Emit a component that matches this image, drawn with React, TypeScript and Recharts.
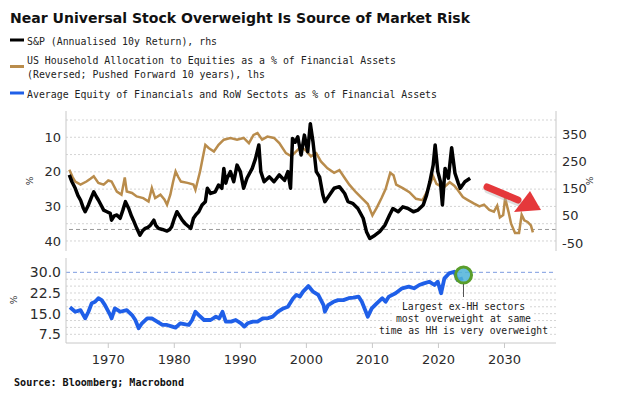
import React from 'react';
import { LineChart, Line, XAxis, YAxis, ReferenceLine, ReferenceDot } from 'recharts';

// ---------- data ----------
const xTicks = [1970, 1980, 1990, 2000, 2010, 2020, 2030];
const leftTicks = [10, 20, 30, 40];
const rightTicks = [-50, 50, 150, 250, 350];
const bottomTicks = [7.5, 15, 22.5, 30];
const topGrid = [5, 10, 15, 20, 25, 30, 35, 40];
const bottomGrid = [7.5, 10, 12.5, 15, 17.5, 20, 22.5, 25, 27.5];

const spYears = [1964.1, 1964.5, 1965.0, 1965.4, 1965.8, 1966.2, 1966.5, 1967.0, 1967.4, 1967.8, 1968.2, 1968.5, 1969.0, 1969.3, 1969.8, 1970.3, 1970.5, 1970.9, 1971.3, 1971.8, 1972.2, 1972.6, 1973.1, 1973.5, 1973.8, 1974.3, 1974.8, 1975.2, 1975.6, 1976.0, 1976.4, 1976.9, 1977.2, 1977.6, 1978.2, 1978.9, 1979.3, 1979.6, 1980.0, 1980.4, 1980.8, 1981.2, 1981.7, 1982.2, 1982.5, 1982.9, 1983.3, 1983.7, 1984.2, 1984.7, 1985.0, 1985.5, 1986.2, 1986.7, 1987.2, 1987.5, 1987.8, 1988.0, 1988.5, 1989.0, 1989.5, 1990.0, 1990.5, 1991.0, 1991.8, 1992.3, 1992.8, 1993.1, 1993.6, 1994.4, 1995.1, 1995.9, 1996.7, 1997.2, 1997.6, 1997.9, 1998.3, 1998.7, 1999.2, 1999.7, 2000.2, 2000.6, 2001.0, 2001.5, 2002.0, 2002.5, 2002.8, 2003.5, 2004.2, 2005.0, 2005.8, 2006.3, 2007.0, 2007.8, 2008.6, 2009.1, 2009.6, 2010.4, 2011.1, 2011.9, 2012.6, 2013.1, 2013.9, 2014.6, 2015.4, 2016.2, 2016.9, 2017.7, 2018.2, 2018.7, 2019.2, 2019.5, 2019.9, 2020.3, 2020.6, 2021.0, 2021.5, 2022.0, 2022.5, 2023.0, 2023.3, 2024.0, 2024.8];
const spValues = [200, 175, 151, 125, 108, 80, 65, 90, 115, 138, 120, 108, 85, 71, 65, 59, 34, 50, 53, 41, 70, 102, 77, 50, 34, 5, -21, -5, 4, 8, 16, 34, 15, 4, 0, -6, 0, 10, 40, 65, 50, 34, 20, 10, 4, 41, 55, 65, 90, 102, 151, 132, 138, 163, 151, 224, 170, 188, 212, 175, 236, 212, 151, 188, 224, 260, 310, 212, 175, 193, 175, 200, 180, 212, 151, 334, 320, 340, 273, 346, 285, 388, 322, 212, 193, 126, 102, 126, 151, 157, 132, 102, 96, 77, 41, -8, -33, -21, -8, 16, 53, 77, 65, 83, 77, 65, 71, 90, 126, 175, 236, 310, 212, 175, 90, 224, 188, 300, 206, 170, 151, 175, 188];

const hhYears = [1964.1, 1964.6, 1965.0, 1965.8, 1966.7, 1967.3, 1967.8, 1968.5, 1969.3, 1970.0, 1970.5, 1971.3, 1972.0, 1972.5, 1972.8, 1973.6, 1974.3, 1975.3, 1976.1, 1976.6, 1977.1, 1977.9, 1978.5, 1978.9, 1979.4, 1979.8, 1980.2, 1980.6, 1981.0, 1982.0, 1982.9, 1983.2, 1983.9, 1984.3, 1984.7, 1985.2, 1986.0, 1986.7, 1987.5, 1988.5, 1989.5, 1990.5, 1991.3, 1992.0, 1992.6, 1993.3, 1994.1, 1995.1, 1995.9, 1996.9, 1997.7, 1998.5, 1999.2, 2000.0, 2000.7, 2001.5, 2002.2, 2003.2, 2004.2, 2005.0, 2005.7, 2006.5, 2007.5, 2008.4, 2009.3, 2010.0, 2010.7, 2011.4, 2012.0, 2012.7, 2013.2, 2013.6, 2014.6, 2015.6, 2016.6, 2017.6, 2018.4, 2019.2, 2019.7, 2020.2, 2021.0, 2021.7, 2022.4, 2022.9, 2023.7, 2024.4, 2025.4, 2026.2, 2026.9, 2027.7, 2028.4, 2028.9, 2029.3, 2029.8, 2030.1, 2030.6, 2031.0, 2031.6, 2032.2, 2032.6, 2033.0, 2033.5, 2034.0, 2034.3];
const hhValues = [19.4, 21.5, 22.8, 23.7, 22.8, 22.0, 21.3, 23.2, 23.7, 22.5, 22.8, 25.7, 26.6, 21.6, 25.7, 26.1, 27.1, 27.6, 28.6, 24.7, 27.6, 26.6, 28.0, 29.5, 26.6, 23.0, 19.9, 21.5, 22.8, 23.2, 23.7, 25.2, 19.9, 16.0, 12.2, 13.1, 14.1, 12.2, 10.7, 10.2, 10.7, 10.2, 11.7, 9.3, 8.8, 10.7, 9.8, 10.2, 11.7, 14.6, 15.5, 14.0, 12.7, 14.0, 15.5, 14.6, 17.0, 19.0, 20.3, 19.5, 21.5, 23.7, 25.9, 27.6, 29.3, 32.6, 30.2, 27.5, 25.0, 20.3, 21.0, 23.7, 24.7, 25.9, 27.8, 28.2, 25.2, 21.3, 23.5, 24.0, 24.2, 23.0, 24.0, 25.2, 27.3, 28.1, 29.2, 30.0, 29.5, 31.0, 31.5, 29.8, 33.2, 32.5, 27.6, 31.5, 35.0, 37.7, 37.7, 32.4, 34.0, 34.5, 35.5, 37.5];

const finYears = [1964.2, 1965.0, 1965.8, 1966.5, 1967.0, 1967.5, 1968.0, 1968.5, 1969.0, 1969.5, 1970.3, 1970.5, 1971.0, 1971.8, 1972.8, 1973.6, 1974.1, 1974.6, 1975.1, 1975.9, 1976.6, 1977.4, 1978.2, 1978.9, 1979.7, 1980.2, 1980.9, 1981.7, 1982.2, 1982.7, 1983.2, 1983.7, 1984.5, 1985.5, 1986.3, 1986.8, 1987.3, 1987.8, 1988.6, 1989.3, 1990.1, 1990.6, 1991.1, 1991.9, 1992.6, 1993.4, 1994.2, 1994.9, 1995.7, 1996.5, 1997.2, 1998.0, 1998.5, 1999.0, 1999.5, 2000.3, 2000.8, 2001.0, 2001.8, 2002.6, 2002.8, 2003.3, 2004.1, 2004.8, 2005.6, 2006.4, 2007.1, 2007.9, 2008.4, 2008.9, 2009.3, 2009.9, 2010.7, 2011.5, 2012.0, 2012.5, 2013.5, 2014.5, 2015.5, 2016.3, 2017.1, 2017.8, 2018.6, 2019.4, 2019.9, 2020.4, 2020.9, 2021.6, 2022.4, 2022.9, 2023.7];
const finValues = [17.3, 15.7, 16.3, 13.3, 15.7, 18.8, 19.3, 20.6, 19.9, 18.1, 14.5, 13.3, 16.9, 15.7, 16.3, 14.5, 12.7, 9.7, 11.5, 13.3, 13.3, 12.1, 10.9, 10.9, 10.3, 9.9, 11.5, 11.1, 10.9, 12.7, 15.7, 14.5, 12.7, 12.7, 13.9, 13.3, 15.7, 12.1, 12.1, 12.7, 11.5, 10.3, 11.5, 12.1, 12.1, 13.3, 13.4, 13.9, 15.7, 16.9, 17.5, 20.6, 21.8, 21.2, 23.0, 25.0, 23.6, 23.0, 21.8, 18.1, 15.7, 18.1, 19.3, 19.9, 19.9, 20.6, 20.8, 21.2, 19.3, 16.3, 13.9, 16.9, 18.8, 20.6, 19.3, 21.2, 22.4, 24.2, 24.8, 24.2, 25.4, 26.0, 26.6, 25.4, 26.6, 22.4, 27.8, 29.6, 30.2, 27.2, 27.8];

const highlightYear = 2023.8;
const highlightValue = 29;

const spData = spYears.map((year, i) => ({ year, v: spValues[i] }));
const hhData = hhYears.map((year, i) => ({ year, v: hhValues[i] }));
const finData = finYears.map((year, i) => ({ year, v: finValues[i] }));

// ---------- styles ----------
const X_DOMAIN: [number, number] = [1963.6, 2037.8];
const AXIS = '#c8c8c8';
const TICK_FONT = { fill: '#2b2b2b', fontSize: 13, fontFamily: 'DejaVu Sans, Verdana, sans-serif' };
const MONO = 'DejaVu Sans Mono, Liberation Mono, monospace';

export default function App() {
  return (
    <div style={{ position: 'absolute', left: 0, top: 0, width: 617, height: 398, background: '#fff', overflow: 'hidden' }}>
      {/* Top panel */}
      <div style={{ position: 'absolute', left: 0, top: 0 }}>
        <LineChart width={617} height={260} margin={{ top: 111, right: 1, bottom: 9, left: 0 }}>
          <XAxis type="number" dataKey="year" domain={X_DOMAIN} allowDataOverflow ticks={xTicks} tick={false} tickLine={false} height={0} axisLine={{ stroke: AXIS }} />
          <YAxis yAxisId="left" orientation="left" width={66} domain={[2.4, 42.9]} reversed allowDataOverflow ticks={leftTicks} interval={0} tickSize={0} tickMargin={5} tickLine={false} axisLine={{ stroke: AXIS }} tick={TICK_FONT} />
          <YAxis yAxisId="right" orientation="right" width={60} domain={[-79, 434.5]} allowDataOverflow ticks={rightTicks} interval={0} tickSize={0} tickMargin={6} tickLine={false} axisLine={{ stroke: AXIS }} tick={TICK_FONT} />
          {topGrid.map((g) => (
            <ReferenceLine key={g} yAxisId="left" y={g} stroke="#d4d4d4" strokeDasharray="2 2" />
          ))}
          <ReferenceLine yAxisId="right" y={0} stroke="#9a9a9a" strokeDasharray="4 3" />
          <Line data={hhData} dataKey="v" yAxisId="left" type="linear" stroke="#b98c4c" strokeWidth={2.5} dot={false} isAnimationActive={false} />
          <Line data={spData} dataKey="v" yAxisId="right" type="linear" stroke="#000" strokeWidth={3.5} strokeLinejoin="round" dot={false} isAnimationActive={false} />
        </LineChart>
      </div>

      {/* Bottom panel */}
      <div style={{ position: 'absolute', left: 0, top: 0 }}>
        <LineChart width={617} height={398} margin={{ top: 258, right: 61, bottom: 30, left: 0 }}>
          <XAxis type="number" dataKey="year" domain={X_DOMAIN} allowDataOverflow ticks={xTicks} interval={0} height={25} tickSize={5} tickMargin={7} tickLine={{ stroke: AXIS }} axisLine={{ stroke: AXIS }} tick={TICK_FONT} />
          <YAxis width={66} domain={[4.35, 35.2]} allowDataOverflow ticks={bottomTicks} interval={0} tickSize={0} tickMargin={5} tickLine={false} axisLine={{ stroke: AXIS }} tick={{ ...TICK_FONT, fontSize: 14 }} tickFormatter={(v: number) => v.toFixed(1)} />
          {bottomGrid.map((g) => (
            <ReferenceLine key={g} y={g} stroke="#d4d4d4" strokeDasharray="2 2" />
          ))}
          <ReferenceLine y={30} stroke="#7c9be0" strokeDasharray="4 3" />
          <Line data={finData} dataKey="v" type="linear" stroke="#1f5fe8" strokeWidth={3.8} strokeLinejoin="round" dot={false} isAnimationActive={false} />
          <ReferenceDot x={highlightYear} y={highlightValue} r={8} fill="#4fb3d9" fillOpacity={0.85} stroke="#5a9e2c" strokeWidth={3} />
        </LineChart>
      </div>

      {/* Text & decoration overlay */}
      <svg width={617} height={398} style={{ position: 'absolute', left: 0, top: 0, pointerEvents: 'none' }}>
        <text x={10} y={23} fontFamily="DejaVu Sans, Verdana, sans-serif" fontWeight="bold" fontSize={14.5} fill="#111" textLength={460} lengthAdjust="spacingAndGlyphs">
          Near Universal Stock Overweight Is Source of Market Risk
        </text>

        <line x1={10} x2={24} y1={40} y2={40} stroke="#000" strokeWidth={3} />
        <text x={27} y={44.5} fontFamily={MONO} fontSize={11} fill="#222" textLength={190} lengthAdjust="spacingAndGlyphs">S&amp;P (Annualised 10y Return), rhs</text>

        <line x1={10} x2={24} y1={66.5} y2={66.5} stroke="#b98c4c" strokeWidth={3} />
        <text x={27} y={63.5} fontFamily={MONO} fontSize={11} fill="#222" textLength={369} lengthAdjust="spacingAndGlyphs">US Household Allocation to Equities as a % of Financial Assets</text>
        <text x={27} y={77.5} fontFamily={MONO} fontSize={11} fill="#222" textLength={238} lengthAdjust="spacingAndGlyphs">(Reversed; Pushed Forward 10 years), lhs</text>

        <line x1={10} x2={24} y1={93} y2={93} stroke="#1f5fe8" strokeWidth={3} />
        <text x={27} y={97.5} fontFamily={MONO} fontSize={11} fill="#222" textLength={410} lengthAdjust="spacingAndGlyphs">Average Equity of Financials and RoW Sectots as % of Financial Assets</text>

        {/* percent unit labels */}
        <text x={33} y={181} fontSize={9} fill="#333" fontFamily="DejaVu Sans, sans-serif" textAnchor="middle" transform="rotate(-90 33 181)">%</text>
        <text x={593} y={181} fontSize={9} fill="#333" fontFamily="DejaVu Sans, sans-serif" textAnchor="middle" transform="rotate(-90 593 181)">%</text>
        <text x={17} y={300} fontSize={9} fill="#333" fontFamily="DejaVu Sans, sans-serif" textAnchor="middle" transform="rotate(-90 17 300)">%</text>

        {/* red arrow */}
        <line x1={487} y1={188} x2={518} y2={201} stroke="#b0b0b0" strokeWidth={7} strokeLinecap="round" opacity={0.4} transform="translate(1 2)" />
        <line x1={487} y1={187} x2={518} y2={200} stroke="#e5383b" strokeWidth={7} strokeLinecap="round" />
        <polygon points="514,212 530,191 541,210" fill="#e5383b" />

        {/* annotation */}
        <line x1={463.5} x2={463.5} y1={284} y2={297} stroke="#555" strokeWidth={1} />
        <rect x={399} y={300} width={129} height={12} fill="#fff" />
        <rect x={394} y={312} width={140} height={12} fill="#fff" />
        <rect x={377} y={324} width={173} height={12} fill="#fff" />
        <text x={463.5} y={310} textAnchor="middle" fontFamily={MONO} fontSize={10} fill="#222" textLength={123} lengthAdjust="spacingAndGlyphs">Largest ex-HH sectors</text>
        <text x={463.5} y={322} textAnchor="middle" fontFamily={MONO} fontSize={10} fill="#222" textLength={135} lengthAdjust="spacingAndGlyphs">most overweight at same</text>
        <text x={463.5} y={334} textAnchor="middle" fontFamily={MONO} fontSize={10} fill="#222" textLength={169} lengthAdjust="spacingAndGlyphs">time as HH is very overweight</text>

        <text x={14} y={386} fontFamily={MONO} fontWeight="bold" fontSize={10} fill="#111" textLength={170} lengthAdjust="spacingAndGlyphs">Source: Bloomberg; Macrobond</text>
      </svg>
    </div>
  );
}
